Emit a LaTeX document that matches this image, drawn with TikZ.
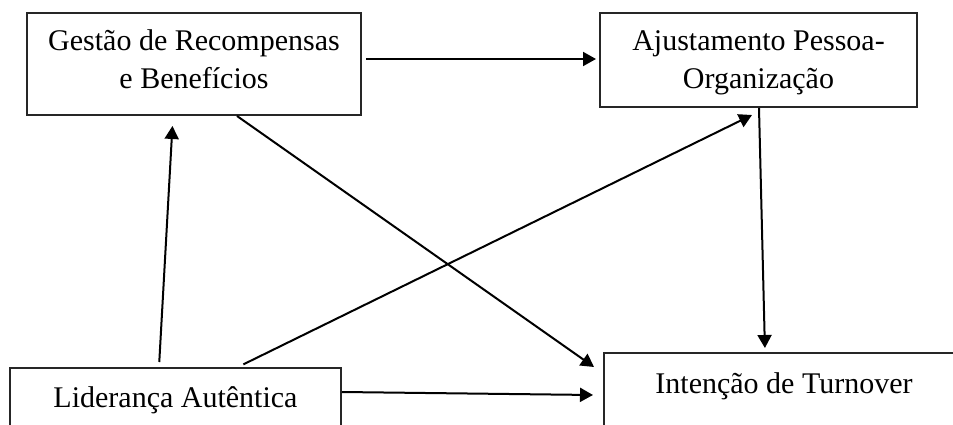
\documentclass[tikz,border=0pt]{standalone}
\usepackage{fontspec}
\setmainfont{Liberation Serif}
\usepackage{tikz}
\usetikzlibrary{arrows.meta}
\tikzset{
    % caixas do modelo
    caixa/.style={
        draw=black!85,
        line width=2pt,
        inner sep=0pt,
        align=center,
        font=\fontsize{30}{38}\selectfont
    },
    % setas entre construtos
    seta/.style={
        line width=2pt,
        black,
        -{Triangle[length=13pt, width=14pt]}
    }
}

\begin{document}
\begin{tikzpicture}[x=1pt, y=-1pt]
            \useasboundingbox (0,0) rectangle (953,425);
            \clip (0,0) rectangle (953,425);

            % construtos
            \node[caixa, anchor=north, minimum width=334pt, text height=76pt, text depth=26pt] (gestao) at (194,12)
                {Gestão de Recompensas\\e Benefícios};
            \node[caixa, anchor=north, minimum width=317pt, text height=76pt, text depth=18pt] (ajuste) at (758.5,12)
                {Ajustamento Pessoa-\\Organização};
            \node[caixa, anchor=north, minimum width=331pt, text height=39pt, text depth=60pt] (lider) at (175.5,367)
                {Liderança Autêntica};
            \node[caixa, anchor=north, minimum width=360pt, text height=40pt, text depth=60pt] (turnover) at (784,352)
                {Intenção de Turnover};

            % relações
            \draw[seta, shorten <=4pt, shorten >=3pt] ([yshift=-47pt]gestao.north east) -- ([yshift=-47pt]ajuste.north west);
            \draw[seta, shorten <=5pt, shorten >=10pt] ([xshift=150pt]lider.north west) -- ([xshift=147pt]gestao.south west);
            \draw[seta] ([xshift=211pt]gestao.south west) -- ([xshift=-9pt,yshift=-15pt]turnover.north west);
            \draw[seta, shorten <=6pt] ([xshift=229pt]lider.north west) -- ([xshift=153pt,yshift=-7pt]ajuste.south west);
            \draw[seta, shorten >=4pt] ([xshift=160pt]ajuste.south west) -- ([xshift=162pt]turnover.north west);
            \draw[seta] ([yshift=-25pt]lider.north east) -- ([xshift=-10pt,yshift=-43pt]turnover.north west);

        \end{tikzpicture}
\end{document}
